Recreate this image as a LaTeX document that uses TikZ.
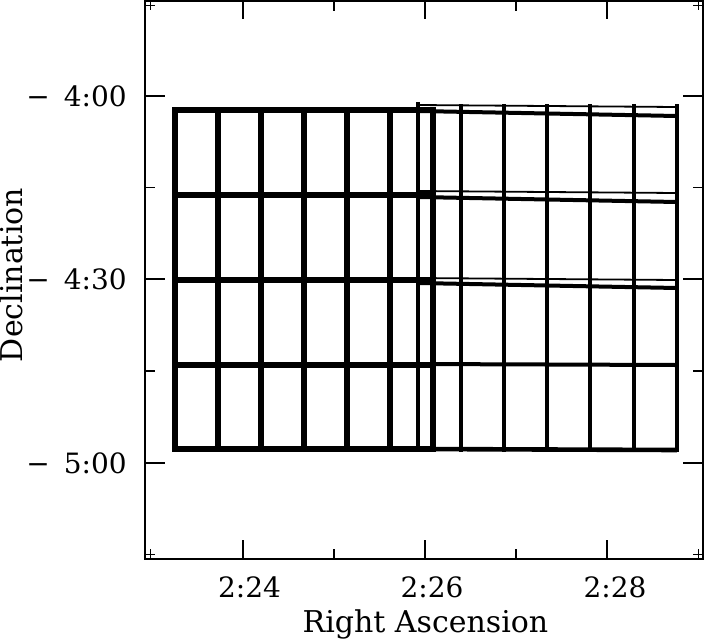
\documentclass[tikz,border=0pt]{standalone}
\usepackage{fontspec}
\setmainfont{DejaVu Serif}
\begin{document}
\begin{tikzpicture}[x=1pt,y=-1pt,
  frame/.style={line width=1.4pt, black},
  tickln/.style={line width=1.3pt, black},
  crossln/.style={line width=1pt, black},
  leftgrid/.style={line width=5.6pt, black, line cap=rect},
  rightv/.style={line width=4.8pt, black, line cap=rect},
  rightthin/.style={line width=1.8pt, black},
  rightthick/.style={line width=4pt, black},
  ticklabel/.style={inner sep=0pt, font=\fontsize{28}{32}\selectfont},
  axtitle/.style={inner sep=0pt, font=\fontsize{30}{34}\selectfont}]
\useasboundingbox (0,0) rectangle (704,641);
\fill[white] (0,0) rectangle (704,641);
% frame
\draw[frame] (145,1) rectangle (703,559);
% corner crosses
\foreach \cx/\cy in {150/5,150/554,698/554,698/5}{
  \draw[crossln] (\cx-5,\cy) -- (\cx+5,\cy) (\cx,\cy-5) -- (\cx,\cy+5);
}
% y ticks (left & right)
\foreach \ty in {96,279,463}{
  \draw[tickln] (145,\ty) -- (165,\ty);
  \draw[tickln] (703,\ty) -- (683,\ty);
}
\foreach \ty in {187.5,371}{
  \draw[tickln] (145,\ty) -- (155,\ty);
  \draw[tickln] (703,\ty) -- (693,\ty);
}
% x ticks (bottom & top)
\foreach \tx in {243,425,607}{
  \draw[tickln] (\tx,559) -- (\tx,540);
  \draw[tickln] (\tx,1) -- (\tx,19);
}
\foreach \tx in {334,516}{
  \draw[tickln] (\tx,559) -- (\tx,549);
  \draw[tickln] (\tx,1) -- (\tx,11);
}
% right block (two overlapping exposures)
\foreach \vx in {461,504,547,590,634,677}{
  \draw[rightv] (\vx,106) -- (\vx,450);
}
\draw[line width=3.2pt, line cap=rect] (418,104) -- (418,450);
\draw[rightthin] (418,105) -- (677,107);
\draw[rightthick] (418,111) -- (677,116);
\draw[rightthin] (418,191) -- (677,193);
\draw[rightthick] (418,197) -- (677,202);
\draw[rightthin] (418,278) -- (677,280);
\draw[rightthick] (418,283) -- (677,288);
\draw[rightthick] (418,364) -- (677,365);
\draw[line width=4.6pt] (418,449) -- (677,450);
% left block
\foreach \vx in {175,218,261,304,347,390,433}{
  \draw[leftgrid] (\vx,110) -- (\vx,449);
}
\foreach \hy in {110,195,280,365,449}{
  \draw[leftgrid] (175,\hy) -- (433,\hy);
}
% tick labels
\node[ticklabel, anchor=east] (d400) at (127,96.5) {−\kern14pt 4:00};
\node[ticklabel, anchor=east] (d430) at (127,279.5) {−\kern14pt 4:30};
\node[ticklabel, anchor=east] (d500) at (127,463.5) {−\kern14pt 5:00};
\node[ticklabel] (r224) at (249.5,587) {2:24};
\node[ticklabel] (r226) at (432,587) {2:26};
\node[ticklabel] (r228) at (615,587) {2:28};
% axis titles
\node[axtitle, anchor=base] (ra) at (425.5,632) {Right Ascension};
\node[axtitle, rotate=90] (dec) at (11,275) {Declination};
\end{tikzpicture}
\end{document}
